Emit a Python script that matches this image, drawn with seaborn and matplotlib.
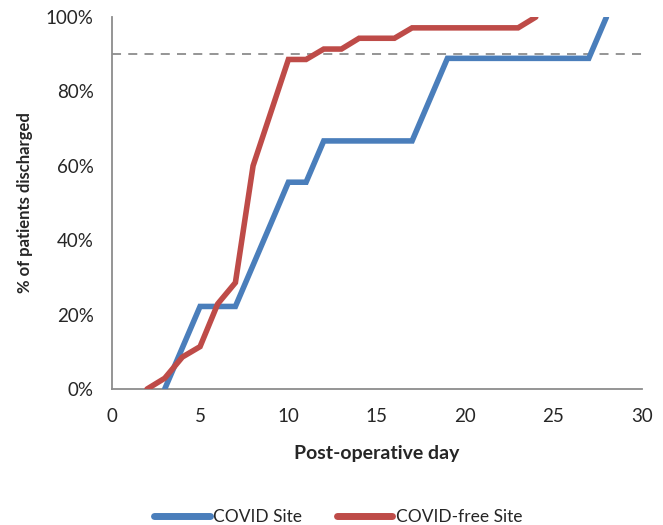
import pandas as pd
import matplotlib
matplotlib.use('Agg')
import matplotlib.pyplot as plt
import seaborn as sns
from matplotlib.ticker import PercentFormatter

# cumulative % discharged per post-operative day
covid_days = [3, 4, 5, 6, 7, 8, 9, 10, 11, 12, 13, 14, 15, 16, 17, 18, 19,
              20, 21, 22, 23, 24, 25, 26, 27, 28]
covid_pct = [0, 11.1, 22.2, 22.2, 22.2, 33.3, 44.4, 55.6, 55.6, 66.7, 66.7, 66.7,
             66.7, 66.7, 66.7, 77.8, 88.9, 88.9, 88.9, 88.9, 88.9, 88.9, 88.9,
             88.9, 88.9, 100]

free_days = [2, 3, 4, 5, 6, 7, 8, 9, 10, 11, 12, 13, 14, 15, 16, 17, 18, 19,
             20, 21, 22, 23, 24]
free_pct = [0, 2.9, 8.6, 11.4, 22.9, 28.6, 60.0, 74.3, 88.6, 88.6, 91.4, 91.4,
            94.3, 94.3, 94.3, 97.1, 97.1, 97.1, 97.1, 97.1, 97.1, 97.1, 100]

target_pct = 90

df = pd.concat([
    pd.DataFrame({'day': covid_days, 'pct': covid_pct, 'site': 'COVID Site'}),
    pd.DataFrame({'day': free_days, 'pct': free_pct, 'site': 'COVID-free Site'}),
])

sns.set_style('white')
plt.rcParams['font.family'] = ['Lato', 'DejaVu Sans']

fig = plt.figure(figsize=(6.63, 5.25), dpi=100)
ax = fig.add_axes([0.1685, 0.259, 0.7995, 0.7085])

ax.axhline(target_pct, color='#8c8c8c', lw=1.3, ls=(0, (5, 4)), zorder=1)
sns.lineplot(data=df, x='day', y='pct', hue='site', ax=ax, lw=4,
             palette={'COVID Site': '#4A7EBB', 'COVID-free Site': '#BE4B48'},
             solid_joinstyle='miter', zorder=3)

ax.set_xlim(0, 30)
ax.set_ylim(0, 100)
ax.set_xticks(range(0, 31, 5))
ax.set_yticks(range(0, 101, 20))
ax.yaxis.set_major_formatter(PercentFormatter(decimals=0))

for s in ['top', 'right']:
    ax.spines[s].set_visible(False)
for s in ['left', 'bottom']:
    ax.spines[s].set_color('#8c8c8c')
    ax.spines[s].set_linewidth(1.3)
ax.tick_params(axis='both', direction='out', length=4, width=1.3, color='#8c8c8c',
               labelsize=13.5)
ax.tick_params(axis='x', pad=10)
ax.tick_params(axis='y', pad=9)

ax.set_xlabel('Post-operative day', fontsize=14, fontweight='bold', labelpad=14)
ax.set_ylabel('% of patients discharged', fontsize=12, fontweight='bold', labelpad=9)

ax.legend_.remove()
handles, labels = ax.get_legend_handles_labels()
for h in handles:
    h.set_linewidth(5)
fig.legend(handles, labels, loc='lower center', bbox_to_anchor=(0.51, -0.03), ncol=2,
           frameon=False, fontsize=12.5, handlelength=3.2, handletextpad=0.2,
           columnspacing=2.0)

fig.savefig('out.png', dpi=100)
